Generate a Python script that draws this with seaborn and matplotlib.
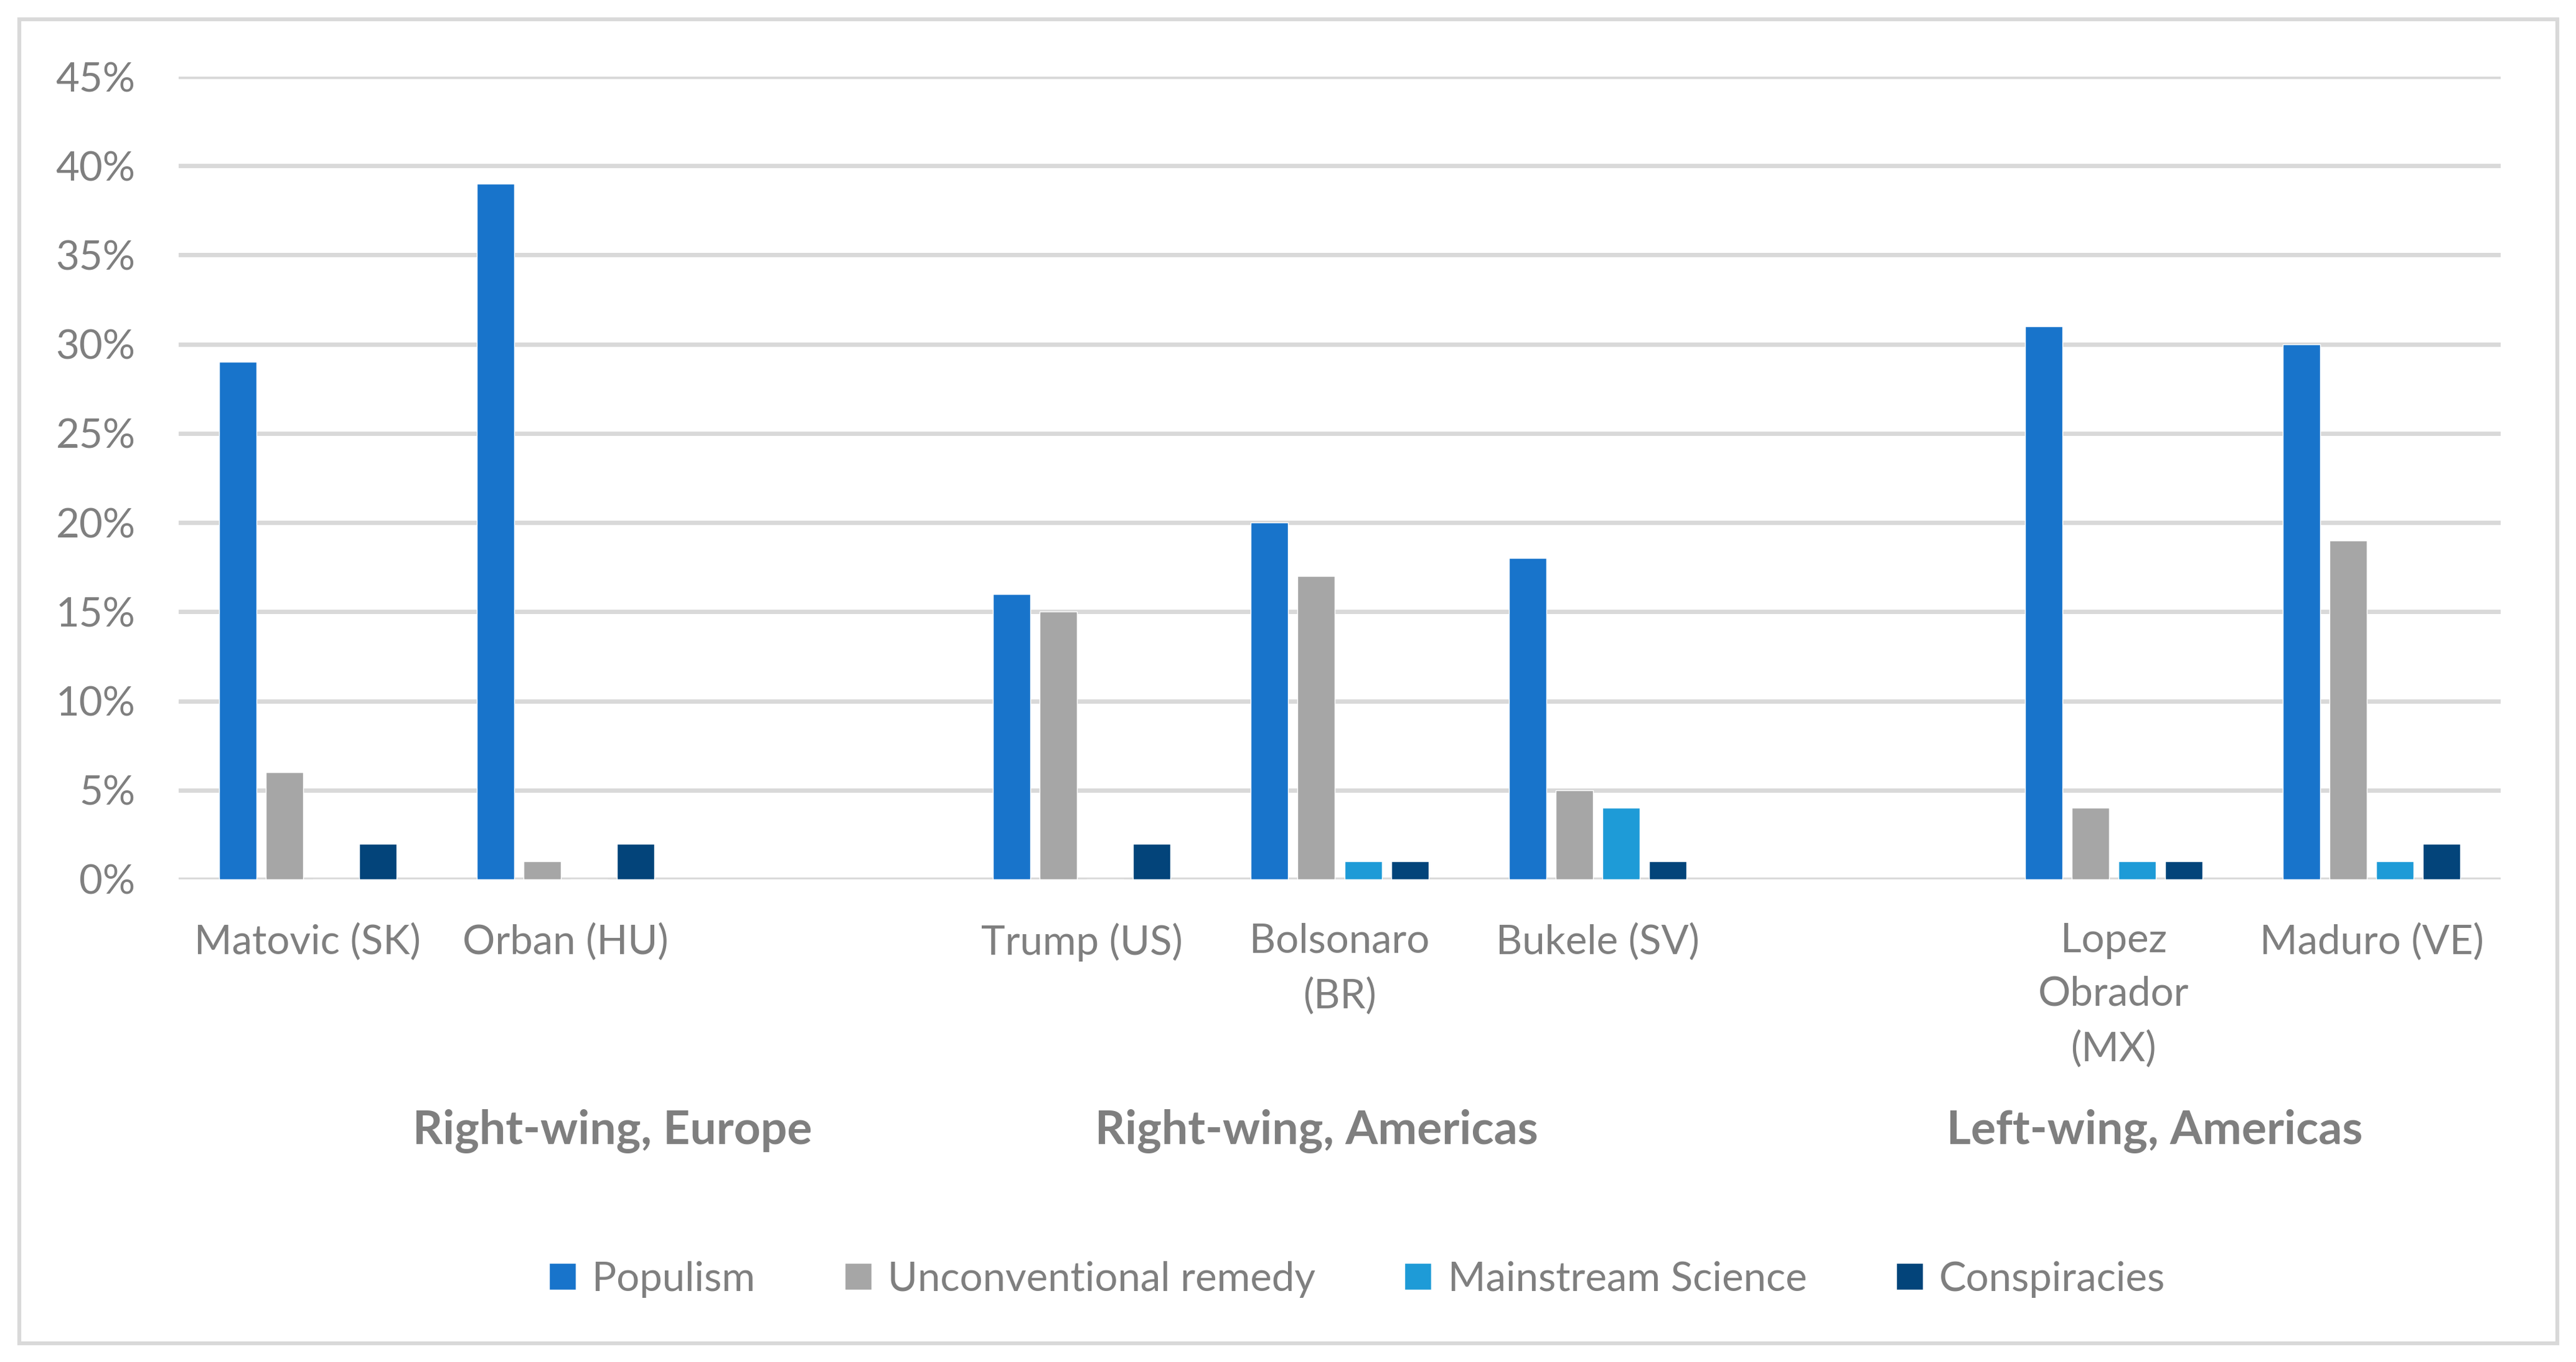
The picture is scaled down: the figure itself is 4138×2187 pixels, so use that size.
import pandas as pd
import matplotlib.pyplot as plt
import seaborn as sns
from matplotlib.patches import Rectangle

# category slots, blanks are the spacer slots between groups
leaders = ["Matovic (SK)", "Orban (HU)", " ", "Trump (US)", "Bolsonaro\n(BR)",
           "Bukele (SV)", "  ", "Lopez\nObrador\n(MX)", "Maduro (VE)"]
series = ["Populism", "Unconventional remedy", "Mainstream Science", "Conspiracies"]

populism = [29, 39, 16, 20, 18, 31, 30]
unconventional = [6, 1, 15, 17, 5, 4, 19]
mainstream = [0, 0, 0, 1, 4, 1, 1]
conspiracies = [2, 2, 2, 1, 1, 1, 2]

named = [l for l in leaders if l.strip()]
groups = ["Right-wing, Europe", "Right-wing, Americas", "Left-wing, Americas"]
yticks = [0, 5, 10, 15, 20, 25, 30, 35, 40, 45]

colors = ["#1874CB", "#A6A6A6", "#1E9BD7", "#03447A"]
txt = "#7F7F7F"

rows = []
for s, vals in zip(series, [populism, unconventional, mainstream, conspiracies]):
    for l, v in zip(named, vals):
        rows.append({"leader": l, "series": s, "value": v})
df = pd.DataFrame(rows)

sns.set_style("white")
plt.rcParams['font.family'] = ['Lato', 'DejaVu Sans']

W, H = 4138, 2187
fig = plt.figure(figsize=(W / 100, H / 100), dpi=100)
ax = fig.add_axes([287 / W, 1 - 1412 / H, (4017 - 287) / W, (1412 - 123) / H])

sns.barplot(data=df, x="leader", y="value", hue="series", order=leaders,
            hue_order=series, palette=colors, width=0.724, gap=0.2,
            saturation=1, ax=ax, legend=True)

ax.set_ylim(0, 45)
ax.set_xlim(-0.5, len(leaders) - 0.5)
ax.set_yticks(yticks)
ax.set_yticklabels([f"{t}%" for t in yticks])
ax.set_xlabel("")
ax.set_ylabel("")
ax.set_axisbelow(True)
ax.yaxis.grid(True, color="#D9D9D9", linewidth=5)
ax.xaxis.grid(False)
for sp in ax.spines.values():
    sp.set_visible(False)
ax.tick_params(axis="both", length=0, labelsize=47, colors=txt)
ax.tick_params(axis="y", pad=50)
ax.tick_params(axis="x", pad=50)
for lab in ax.get_xticklabels():
    lab.set_linespacing(1.55)

# group labels under the category labels
for g, gx in zip(groups, [1.18, 3.91, 7.16]):
    ax.text(gx, -(1837 - 1412) / (1412 - 123), g, transform=ax.get_xaxis_transform(),
            ha="center", va="baseline", fontsize=54, fontweight="bold", color=txt)

leg = ax.legend(loc="center", bbox_to_anchor=(2180 / W, 1 - 2054 / H),
                bbox_transform=fig.transFigure, ncol=4, frameon=False,
                fontsize=47, handlelength=0.66, handleheight=0.65,
                handletextpad=0.4, columnspacing=2.2)
for t in leg.get_texts():
    t.set_color(txt)

fig.patches.append(Rectangle((31 / W, 1 - 2157 / H), (4108 - 31) / W, (2157 - 31) / H,
                             transform=fig.transFigure, fill=False,
                             edgecolor="#D9D9D9", linewidth=4.5))

fig.savefig("out.png", dpi=100, facecolor="white")
